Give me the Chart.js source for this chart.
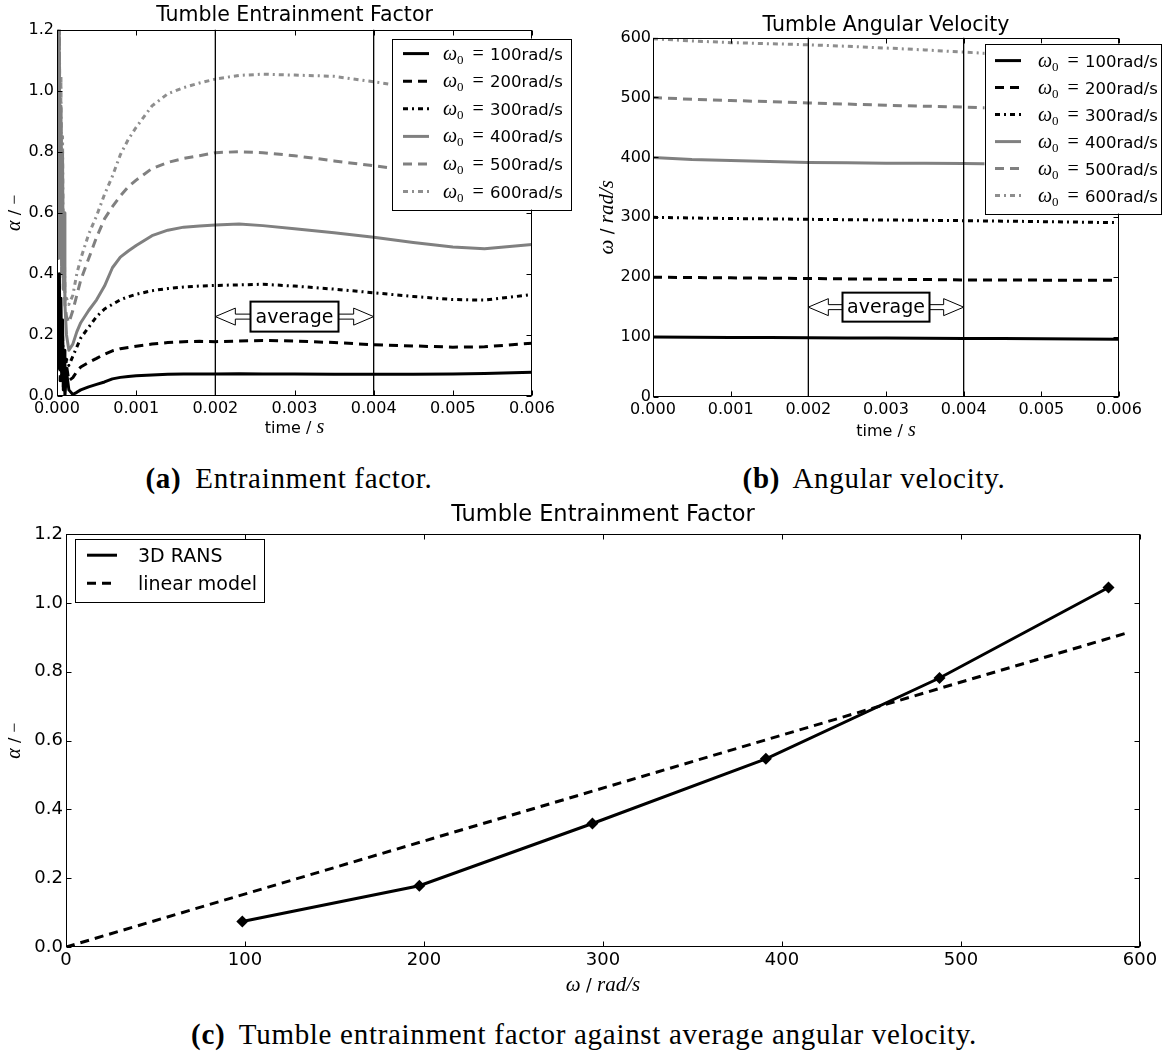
<!DOCTYPE html>
<html>
<head>
<meta charset="utf-8">
<script src="https://cdn.jsdelivr.net/npm/chart.js@4.4.1/dist/chart.umd.min.js"></script>
<style>
  body { margin: 0; background: #fff; width: 1164px; height: 1053px; position: relative; overflow: hidden; }
  canvas { position: absolute; }
  .cap { position: absolute; font-family: "Liberation Serif", serif; font-size: 29px; letter-spacing: 0.7px; line-height: 30px; color: #000; white-space: nowrap; transform: translateX(-50%); }
  .cap b { margin-right: 6px; }
</style>
</head>
<body>
<canvas id="chartA" width="582" height="445" style="left:0;top:0"></canvas>
<canvas id="chartB" width="582" height="445" style="left:582px;top:0"></canvas>
<canvas id="chartC" width="1164" height="510" style="left:0;top:500px"></canvas>
<div class="cap" style="left:289px;top:463px"><b>(a)</b> Entrainment factor.</div>
<div class="cap" style="left:874px;top:463px"><b>(b)</b> Angular velocity.</div>
<div class="cap" style="left:584px;top:1019px"><b>(c)</b> Tumble entrainment factor against average angular velocity.</div>
<script>
// --- data ---
const seriesLabels = ["100", "200", "300", "400", "500", "600"];
const timeTicks = [0, 0.001, 0.002, 0.003, 0.004, 0.005, 0.006];
const alphaTicks = [0, 0.2, 0.4, 0.6, 0.8, 1.0, 1.2];
const omegaTicks = [0, 100, 200, 300, 400, 500, 600];
const averageWindow = [0.002, 0.004];

// (a) entrainment factor over time
const timeA = [0.00001, 0.00002, 0.00003, 0.00004, 0.00005, 0.00006, 0.00007, 0.00008, 0.00009, 0.0001,
  0.00012, 0.00015, 0.0002, 0.00025, 0.0003, 0.0004, 0.0005, 0.0006, 0.0007, 0.0008, 0.0009, 0.001,
  0.0012, 0.0014, 0.0016, 0.0018, 0.002, 0.0023, 0.0026, 0.003, 0.0035, 0.004, 0.0045, 0.005, 0.0054, 0.006];
const alpha100 = [0.15, 0.3, 0.4, 0.1, 0.32, 0.05, 0.25, 0.02, 0.15, 0.0,
  0.08, 0.02, 0.005, 0.012, 0.02, 0.03, 0.038, 0.046, 0.056, 0.061, 0.064, 0.066,
  0.069, 0.071, 0.072, 0.072, 0.072, 0.073, 0.072, 0.072, 0.071, 0.071, 0.071, 0.072, 0.074, 0.078];
const alpha200 = [0.2, 0.1, 0.35, 0.05, 0.2, 0.1, 0.18, 0.03, 0.12, 0.06,
  0.1, 0.05, 0.06, 0.08, 0.095, 0.11, 0.123, 0.137, 0.148, 0.155, 0.159, 0.163,
  0.17, 0.175, 0.178, 0.179, 0.178, 0.18, 0.182, 0.18, 0.175, 0.168, 0.164, 0.16, 0.161, 0.173];
const alpha300 = [0.25, 0.08, 0.3, 0.15, 0.22, 0.05, 0.2, 0.1, 0.15, 0.08,
  0.12, 0.1, 0.13, 0.16, 0.19, 0.225, 0.26, 0.285, 0.3, 0.315, 0.325, 0.333,
  0.345, 0.352, 0.357, 0.36, 0.362, 0.364, 0.366, 0.36, 0.35, 0.338, 0.326, 0.316, 0.314, 0.332];
const alpha400 = [1.25, 0.45, 1.1, 0.5, 0.95, 0.4, 0.8, 0.35, 0.6, 0.3,
  0.2, 0.15, 0.17, 0.21, 0.24, 0.28, 0.315, 0.36, 0.42, 0.455, 0.475, 0.493,
  0.525, 0.543, 0.553, 0.557, 0.56, 0.563, 0.558, 0.548, 0.535, 0.52, 0.503, 0.488, 0.482, 0.496];
const alpha500 = [1.15, 0.5, 1.25, 0.45, 0.9, 0.4, 0.7, 0.35, 0.5, 0.3,
  0.26, 0.24, 0.28, 0.33, 0.38, 0.45, 0.52, 0.58, 0.62, 0.655, 0.685, 0.707,
  0.745, 0.765, 0.778, 0.787, 0.797, 0.8, 0.797, 0.787, 0.77, 0.754, 0.738, 0.722, 0.712, 0.72];
const alpha600 = [1.0, 0.6, 1.25, 0.5, 1.05, 0.45, 0.85, 0.4, 0.55, 0.32,
  0.32, 0.3, 0.33, 0.4, 0.45, 0.53, 0.59, 0.66, 0.72, 0.79, 0.84, 0.88,
  0.95, 0.99, 1.01, 1.025, 1.038, 1.05, 1.054, 1.051, 1.047, 1.029, 1.01, 0.99, 0.98, 0.97];

// (b) angular velocity over time
const timeB = [0, 0.0005, 0.001, 0.0015, 0.002, 0.0025, 0.003, 0.0035, 0.004, 0.0045, 0.005, 0.0055, 0.006];
const omega100 = [100, 99.8, 99.5, 99.2, 99, 98.7, 98.4, 98.1, 97.8, 97.5, 97.2, 96.9, 96.6];
const omega200 = [200, 199.4, 198.9, 198.3, 197.8, 197.2, 196.6, 196.1, 195.5, 195.3, 195.1, 195, 194.9];
const omega300 = [300, 298.8, 298, 297.3, 296.6, 296, 295.5, 295, 294.4, 293.6, 292.8, 291.9, 291];
const omega400 = [400, 396.6, 395, 393.2, 391.6, 391, 390.4, 390.2, 390, 389, 388, 386.5, 385];
const omega500 = [500, 497, 495, 493, 491, 489, 487, 485.5, 484, 482, 480, 478, 476];
const omega600 = [598, 594.5, 591.6, 589.8, 588, 585.5, 582.6, 579.4, 575.8, 572, 568, 565, 562];

// (c) averaged alpha against averaged omega
const omegaAvg = [98.5, 197.4, 294.1, 391.0, 488.0, 582.4];
const alphaAvg = [0.074, 0.178, 0.359, 0.547, 0.782, 1.045];
const linearOmega = [0, 591.5];
const linearAlpha = [0, 0.911];

// --- styles ---
const GRAY = "#808080";
const seriesStyles = [
    { color: "#000", dash: [], width: 3 },
    { color: "#000", dash: [9, 6], width: 3 },
    { color: "#000", dash: [5, 4, 2, 4], width: 3 },
    { color: GRAY, dash: [], width: 3 },
    { color: GRAY, dash: [9, 6], width: 3 },
    { color: "#8e8e8e", dash: [5, 4, 2, 4], width: 3 }
];

const SANS = '"DejaVu Sans", sans-serif';
const SERIF = '"Liberation Serif", serif';
Chart.defaults.font.family = SANS;
Chart.defaults.font.size = 16;
Chart.defaults.color = "#000";
Chart.defaults.animation = false;

function drawRuns(ctx, runs, x, y, rotation, align) {
    ctx.save();
    ctx.translate(x, y);
    if (rotation) ctx.rotate(rotation);
    let total = 0;
    const widths = runs.map((r) => {
        ctx.font = r.font;
        const w = ctx.measureText(r.text).width;
        total += w + (r.gap || 0);
        return w;
    });
    let cx = align === "center" ? -total / 2 : 0;
    ctx.textAlign = "left";
    ctx.textBaseline = "alphabetic";
    ctx.fillStyle = "#000";
    runs.forEach((r, i) => {
        ctx.font = r.font;
        ctx.fillText(r.text, cx, r.dy || 0);
        cx += widths[i] + (r.gap || 0);
    });
    ctx.restore();
}

function omegaRuns(label) {
    return [
        { text: "ω", font: "italic 20px " + SERIF, dy: 6 },
        { text: "0", font: "13px " + SERIF, dy: 10, gap: 9 },
        { text: "=", font: "20px " + SERIF, dy: 6, gap: 6 },
        { text: label + "rad/s", font: "16.5px " + SANS, dy: 6 }
    ];
}

function drawArrow(ctx, tip, base, y) {
    const dir = base > tip ? 1 : -1;
    const head = 20, hh = 8.5, sh = 2.5;
    ctx.beginPath();
    ctx.moveTo(tip, y);
    ctx.lineTo(tip + dir * head, y - hh);
    ctx.lineTo(tip + dir * head, y - sh);
    ctx.lineTo(base, y - sh);
    ctx.lineTo(base, y + sh);
    ctx.lineTo(tip + dir * head, y + sh);
    ctx.lineTo(tip + dir * head, y + hh);
    ctx.closePath();
    ctx.fill();
    ctx.stroke();
}

function makeDecor(cfg) {
    return {
        id: "decor",
        afterDatasetsDraw(chart) {
            const ctx = chart.ctx;
            const a = chart.chartArea;
            const xs = chart.scales.x, ys = chart.scales.y;
            const L = Math.round(a.left) + 0.5, R = Math.round(a.right) - 0.5;
            const T = Math.round(a.top) + 0.5, B = Math.round(a.bottom) - 0.5;
            ctx.save();
            ctx.strokeStyle = "#000";
            ctx.lineWidth = 1;
            ctx.setLineDash([]);
            ctx.strokeRect(L, T, R - L, B - T);
            ctx.beginPath();
            xs.ticks.forEach((tk) => {
                const p = Math.round(xs.getPixelForValue(tk.value)) + 0.5;
                ctx.moveTo(p, B); ctx.lineTo(p, B - 5);
                ctx.moveTo(p, T); ctx.lineTo(p, T + 5);
            });
            ys.ticks.forEach((tk) => {
                const p = Math.round(ys.getPixelForValue(tk.value)) + 0.5;
                ctx.moveTo(L, p); ctx.lineTo(L + 5, p);
                ctx.moveTo(R, p); ctx.lineTo(R - 5, p);
            });
            ctx.stroke();
            ctx.restore();
        },
        afterDraw(chart) {
            const ctx = chart.ctx;
            const a = chart.chartArea;
            const xs = chart.scales.x, ys = chart.scales.y;
            drawRuns(ctx, cfg.xTitle, (a.left + a.right) / 2, cfg.xTitleY, 0, "center");
            drawRuns(ctx, cfg.yTitle, cfg.yTitleX, (a.top + a.bottom) / 2, -Math.PI / 2, "center");

            ctx.save();
            if (cfg.note) {
                const n = cfg.note;
                const cx = xs.getPixelForValue(n.x), cy = ys.getPixelForValue(n.y);
                ctx.fillStyle = "#fff";
                ctx.strokeStyle = "#000";
                ctx.lineWidth = 1;
                drawArrow(ctx, xs.getPixelForValue(averageWindow[0]), cx - n.w / 2, cy);
                drawArrow(ctx, xs.getPixelForValue(averageWindow[1]), cx + n.w / 2, cy);
                ctx.lineWidth = 2;
                ctx.fillRect(cx - n.w / 2, cy - n.h / 2, n.w, n.h);
                ctx.strokeRect(cx - n.w / 2, cy - n.h / 2, n.w, n.h);
                ctx.fillStyle = "#000";
                ctx.font = "19px " + SANS;
                ctx.textAlign = "center";
                ctx.textBaseline = "middle";
                ctx.fillText("average", cx, cy + 1);
            }

            const lg = cfg.legend;
            const pos = lg.pos(a);
            ctx.fillStyle = "#fff";
            ctx.fillRect(pos.x, pos.y, lg.w, lg.h);
            ctx.strokeStyle = "#000";
            ctx.lineWidth = 1;
            ctx.setLineDash([]);
            ctx.strokeRect(Math.round(pos.x) + 0.5, Math.round(pos.y) + 0.5, lg.w, lg.h);
            lg.items.forEach((it, i) => {
                const y = pos.y + lg.rowStart + i * lg.rowGap;
                ctx.strokeStyle = it.color;
                ctx.lineWidth = it.width;
                ctx.setLineDash(it.dash);
                ctx.beginPath();
                ctx.moveTo(pos.x + lg.sampleX, y);
                ctx.lineTo(pos.x + lg.sampleX + lg.sampleW, y);
                ctx.stroke();
                drawRuns(ctx, it.runs, pos.x + lg.textX, y, 0, "left");
            });
            ctx.restore();
        }
    };
}

function lineSets(times, list) {
    return list.map((vals, i) => ({
        label: seriesLabels[i],
        data: times.map((t, k) => ({ x: t, y: vals[k] })),
        borderColor: seriesStyles[i].color,
        borderWidth: seriesStyles[i].width,
        borderDash: seriesStyles[i].dash,
        borderJoinStyle: "round",
        pointRadius: 0,
        tension: 0,
        fill: false
    }));
}

function windowSets(yMax) {
    return averageWindow.map((t) => ({
        label: "window",
        data: [{ x: t, y: 0 }, { x: t, y: yMax }],
        borderColor: "#000",
        borderWidth: 1.3,
        pointRadius: 0,
        fill: false
    }));
}

function axis(min, max, ticks, fmt, fit, pad, size) {
    return {
        type: "linear",
        min: min,
        max: max,
        grid: { display: false, drawTicks: false },
        border: { display: false },
        ticks: { padding: pad, autoSkip: false, maxRotation: 0, font: { size: size }, callback: fmt },
        afterBuildTicks: (ax) => { ax.ticks = ticks.map((v) => ({ value: v })); },
        afterFit: fit
    };
}

function legendItems() {
    return seriesLabels.map((lab, i) => ({
        color: seriesStyles[i].color, dash: seriesStyles[i].dash, width: seriesStyles[i].width,
        runs: omegaRuns(lab)
    }));
}

function titleOpts(text, size, top, bottom) {
    return {
        display: true, text: text, fullSize: false, color: "#000",
        font: { size: size, weight: "normal" }, padding: { top: top, bottom: bottom }
    };
}

const alphaLabel = [
    { text: "α", font: "italic 20px " + SERIF, dy: 5 },
    { text: " / ", font: "16px " + SANS, dy: 5 },
    { text: "−", font: "18px " + SERIF, dy: 5 }
];
const omegaLabel = [
    { text: "ω", font: "italic 21px " + SERIF, dy: 5 },
    { text: " / ", font: "17px " + SANS, dy: 5 },
    { text: "rad/s", font: "italic 21px " + SERIF, dy: 5 }
];
const timeLabel = [
    { text: "time / ", font: "16px " + SANS, dy: 5 },
    { text: "s", font: "italic 20px " + SERIF, dy: 5 }
];

// (a)
new Chart(document.getElementById("chartA"), {
    type: "line",
    data: { datasets: windowSets(1.2).concat(lineSets(timeA, [alpha100, alpha200, alpha300, alpha400, alpha500, alpha600])) },
    options: {
        responsive: false,
        events: [],
        layout: { padding: { left: 0, right: 50, top: 0, bottom: 0 } },
        plugins: {
            legend: { display: false },
            tooltip: { enabled: false },
            title: titleOpts("Tumble Entrainment Factor", 20.5, 3, 2)
        },
        scales: {
            x: axis(0, 0.006, timeTicks, (v) => v.toFixed(3), (ax) => { ax.height = 49; }, 3, 16),
            y: axis(0, 1.2, alphaTicks, (v) => v.toFixed(1), (ax) => { ax.width = 57; }, 3, 16)
        }
    },
    plugins: [makeDecor({
        xTitle: timeLabel, xTitleY: 428,
        yTitle: alphaLabel, yTitleX: 15,
        note: { x: 0.003, y: 0.26, w: 88, h: 30 },
        legend: {
            pos: (a) => ({ x: a.right - 140, y: a.top + 9 }),
            w: 179, h: 171, rowStart: 15, rowGap: 27.6, sampleX: 11, sampleW: 26, textX: 51,
            items: legendItems()
        }
    })]
});

// (b)
new Chart(document.getElementById("chartB"), {
    type: "line",
    data: { datasets: windowSets(600).concat(lineSets(timeB, [omega100, omega200, omega300, omega400, omega500, omega600])) },
    options: {
        responsive: false,
        events: [],
        layout: { padding: { left: 0, right: 45, top: 0, bottom: 0 } },
        plugins: {
            legend: { display: false },
            tooltip: { enabled: false },
            title: titleOpts("Tumble Angular Velocity", 20.5, 13, 0)
        },
        scales: {
            x: axis(0, 0.006, timeTicks, (v) => v.toFixed(3), (ax) => { ax.height = 48; }, 3, 16),
            y: axis(0, 600, omegaTicks, (v) => String(Math.round(v)), (ax) => { ax.width = 71; }, 2, 16)
        }
    },
    plugins: [makeDecor({
        xTitle: timeLabel, xTitleY: 431,
        yTitle: omegaLabel, yTitleX: 26,
        note: { x: 0.003, y: 150, w: 87, h: 29 },
        legend: {
            pos: (a) => ({ x: a.right - 134.5, y: a.top + 6 }),
            w: 176, h: 170, rowStart: 17, rowGap: 27, sampleX: 10.5, sampleW: 26, textX: 53.5,
            items: legendItems()
        }
    })]
});

// (c)
new Chart(document.getElementById("chartC"), {
    type: "line",
    data: {
        datasets: [
            {
                label: "3D RANS",
                data: omegaAvg.map((w, i) => ({ x: w, y: alphaAvg[i] })),
                borderColor: "#000",
                borderWidth: 3,
                pointStyle: "rectRot",
                pointRadius: 6,
                pointBackgroundColor: "#000",
                pointBorderWidth: 0,
                tension: 0,
                fill: false
            },
            {
                label: "linear model",
                data: linearOmega.map((w, i) => ({ x: w, y: linearAlpha[i] })),
                borderColor: "#000",
                borderWidth: 3,
                borderDash: [9, 6],
                pointRadius: 0,
                tension: 0,
                fill: false
            }
        ]
    },
    options: {
        responsive: false,
        events: [],
        layout: { padding: { left: 0, right: 24, top: 0, bottom: 0 } },
        plugins: {
            legend: { display: false },
            tooltip: { enabled: false },
            title: titleOpts("Tumble Entrainment Factor", 22.5, 2, 5.2)
        },
        scales: {
            x: axis(0, 600, omegaTicks, (v) => String(Math.round(v)), (ax) => { ax.height = 63; }, 3, 18),
            y: axis(0, 1.2, alphaTicks, (v) => v.toFixed(1), (ax) => { ax.width = 66; }, 3, 18)
        }
    },
    plugins: [makeDecor({
        xTitle: omegaLabel, xTitleY: 486,
        yTitle: alphaLabel, yTitleX: 15,
        legend: {
            pos: (a) => ({ x: a.left + 9, y: a.top + 5 }),
            w: 189, h: 63, rowStart: 16, rowGap: 28, sampleX: 12, sampleW: 30, textX: 63,
            items: [
                { color: "#000", dash: [], width: 3, runs: [{ text: "3D RANS", font: "19px " + SANS, dy: 7 }] },
                { color: "#000", dash: [9, 6], width: 3, runs: [{ text: "linear model", font: "19px " + SANS, dy: 7 }] }
            ]
        }
    })]
});
</script>
</body>
</html>
